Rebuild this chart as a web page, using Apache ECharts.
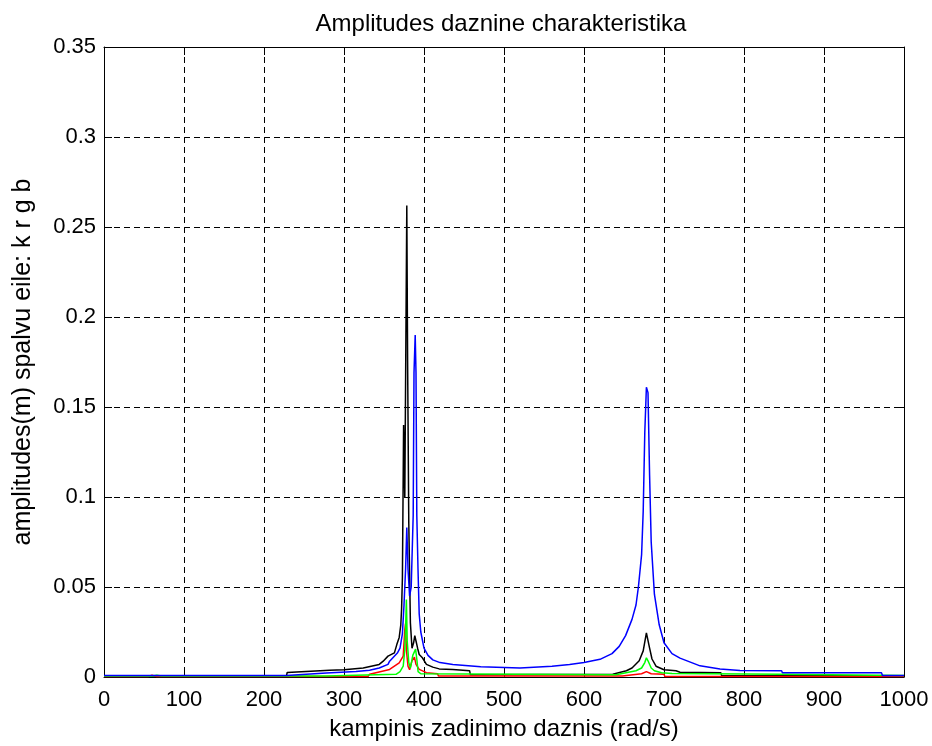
<!DOCTYPE html>
<html>
<head>
<meta charset="utf-8">
<title>Amplitudes daznine charakteristika</title>
<script src="https://cdn.jsdelivr.net/npm/echarts@6/dist/echarts.min.js"></script>
<style>
    html, body {margin: 0; padding: 0; background: #fff;}
    #chart {width: 932px; height: 746px;}
</style>
</head>
<body>
<div id="chart"></div>
<script>
// axis ticks
var xTicks = [0, 100, 200, 300, 400, 500, 600, 700, 800, 900, 1000];
var yTicks = [0, 0.05, 0.1, 0.15, 0.2, 0.25, 0.3, 0.35];

// k - black
var freqK = [0, 228, 229, 282, 300, 324, 344, 349, 355, 363, 366, 369, 371, 372, 373, 374.5, 376, 378.5, 379.5, 381,
    383, 385, 387, 388.5, 390, 392, 394, 398, 403, 411, 419, 436, 457, 458, 636, 637, 653, 660, 669, 674,
    678, 680, 682, 685, 690, 700, 715, 720, 771, 772, 1000];
var ampK = [0.0005, 0.0005, 0.0025, 0.0037, 0.004, 0.005, 0.007, 0.0088, 0.0116, 0.0134, 0.018, 0.022, 0.029, 0.038, 0.055, 0.14, 0.1, 0.262, 0.176, 0.085,
    0.03, 0.016, 0.019, 0.023, 0.02, 0.016, 0.0125, 0.0107, 0.007, 0.0055, 0.0045, 0.0042, 0.0035, 0.0012, 0.0015, 0.0024, 0.0035, 0.005, 0.009, 0.0145,
    0.0245, 0.024, 0.016, 0.01, 0.006, 0.004, 0.0035, 0.0026, 0.0024, 0.0008, 0.0005];

// r - red
var freqR = [0, 55, 60, 66, 72, 330, 332, 357, 369, 374, 376, 377, 378, 380, 382, 385, 388, 390, 394, 403,
    417, 418, 648, 649, 672, 678, 684, 700, 701, 1000];
var ampR = [0.0003, 0.0003, 0.001, 0.0003, 0.0003, 0.0003, 0.0015, 0.0042, 0.0079, 0.0116, 0.026, 0.03, 0.015, 0.006, 0.004, 0.009, 0.011, 0.007, 0.0042, 0.0024,
    0.0018, 0.0005, 0.0005, 0.0015, 0.0018, 0.003, 0.0018, 0.0015, 0.0003, 0.0003];

// g - green
var freqG = [0, 60, 66, 72, 277, 278, 365, 370, 374, 376, 377, 378, 379, 381, 383, 386, 389.5, 391, 392.6, 396,
    640, 665, 672, 676, 678, 680, 684, 688, 697, 710, 847, 848, 1000];
var ampG = [0.0005, 0.0005, 0.001, 0.0005, 0.0005, 0.0012, 0.0015, 0.003, 0.006, 0.015, 0.027, 0.043, 0.02, 0.008, 0.005, 0.012, 0.0155, 0.01, 0.003, 0.0018,
    0.0013, 0.0035, 0.005, 0.008, 0.0107, 0.009, 0.005, 0.0035, 0.0024, 0.002, 0.0015, 0.001, 0.0008];

// b - blue
var freqB = [0, 228, 229, 278, 315, 332, 344, 355, 357, 367, 370, 373, 375, 377, 378.5, 380, 382, 384, 386.5, 387.5,
    389, 390, 391, 392.5, 394, 396, 400, 405, 411, 420, 436, 471, 520, 560, 582, 600, 620, 635, 644, 652,
    660, 665, 668, 672, 674, 676, 678, 680, 682, 684, 688, 694, 700, 710, 720, 745, 770, 795, 847, 848,
    972, 973, 1000];
var ampB = [0.0008, 0.0008, 0.0015, 0.0022, 0.003, 0.0037, 0.005, 0.007, 0.0088, 0.0135, 0.016, 0.024, 0.04, 0.06, 0.083, 0.06, 0.045, 0.05, 0.09, 0.169,
    0.19, 0.169, 0.09, 0.06, 0.035, 0.025, 0.016, 0.012, 0.0095, 0.008, 0.007, 0.0057, 0.005, 0.006, 0.007, 0.008, 0.0098, 0.013, 0.017, 0.023,
    0.032, 0.04, 0.05, 0.068, 0.092, 0.136, 0.161, 0.158, 0.112, 0.075, 0.046, 0.029, 0.019, 0.013, 0.0105, 0.0062, 0.0045, 0.0036, 0.0035, 0.0023,
    0.0023, 0.0008, 0.0008];

var FONT = 'Liberation Sans, Arial, sans-serif';
var FS = 22;

function pairs(xs, ys){
    var out = [];
    for(var i = 0; i < xs.length; i++){
        out.push([xs[i], ys[i]]);
    }
    return out;
}

function line(name, color, xs, ys){
    return {
        name: name,
        type: 'line',
        showSymbol: false,
        animation: false,
        data: pairs(xs, ys),
        lineStyle: {color: color, width: 1.5},
        itemStyle: {color: color},
        z: 3
    };
}

// matlab style box: solid frame, ticks inside, dashed grid
var dashed = {show: true, lineStyle: {color: '#000', width: 1, type: [6, 4]}};
var frame = {show: true, onZero: false, lineStyle: {color: '#000', width: 1}};
var tickIn = {show: true, inside: true, length: 8, lineStyle: {color: '#000', width: 1}};

var xMin = xTicks[0], xMax = xTicks[xTicks.length - 1], xStep = xTicks[1] - xTicks[0];
var yMin = yTicks[0], yMax = yTicks[yTicks.length - 1], yStep = yTicks[1] - yTicks[0];

var option = {
    backgroundColor: '#fff',
    animation: false,
    title: {
        text: 'Amplitudes daznine charakteristika',
        left: 496,
        top: 7,
        textAlign: 'center',
        textStyle: {fontFamily: FONT, fontSize: 24, fontWeight: 'normal', color: '#000'}
    },
    grid: {left: 104, top: 47, width: 800, height: 632, containLabel: false},
    xAxis: [
        {
            type: 'value', position: 'bottom', min: xMin, max: xMax, interval: xStep,
            name: 'kampinis zadinimo daznis (rad/s)',
            nameLocation: 'middle', nameGap: 40,
            nameTextStyle: {fontFamily: FONT, fontSize: 24, color: '#000'},
            axisLine: frame, axisTick: tickIn, splitLine: dashed,
            axisLabel: {
                fontFamily: FONT, fontSize: FS, color: '#000', margin: 12,
                formatter: function(v){ return String(v); }
            }
        },
        {
            type: 'value', position: 'top', min: xMin, max: xMax, interval: xStep,
            axisLine: frame, axisTick: tickIn, splitLine: {show: false},
            axisLabel: {show: false}
        }
    ],
    yAxis: [
        {
            type: 'value', position: 'left', min: yMin, max: yMax, interval: yStep,
            name: 'amplitudes(m) spalvu eile: k r g b',
            nameLocation: 'middle', nameGap: 68, nameRotate: 90,
            nameTextStyle: {fontFamily: FONT, fontSize: 25, color: '#000'},
            axisLine: frame, axisTick: tickIn, splitLine: dashed,
            axisLabel: {fontFamily: FONT, fontSize: FS, color: '#000', margin: 8}
        },
        {
            type: 'value', position: 'right', min: yMin, max: yMax, interval: yStep,
            axisLine: frame, axisTick: tickIn, splitLine: {show: false},
            axisLabel: {show: false}
        }
    ],
    series: [
        line('k', '#000000', freqK, ampK),
        line('r', '#ff0000', freqR, ampR),
        line('g', '#00ff00', freqG, ampG),
        line('b', '#0000ff', freqB, ampB)
    ]
};

var chart = echarts.init(document.getElementById('chart'), null, {renderer: 'canvas'});
chart.setOption(option);
</script>
</body>
</html>
